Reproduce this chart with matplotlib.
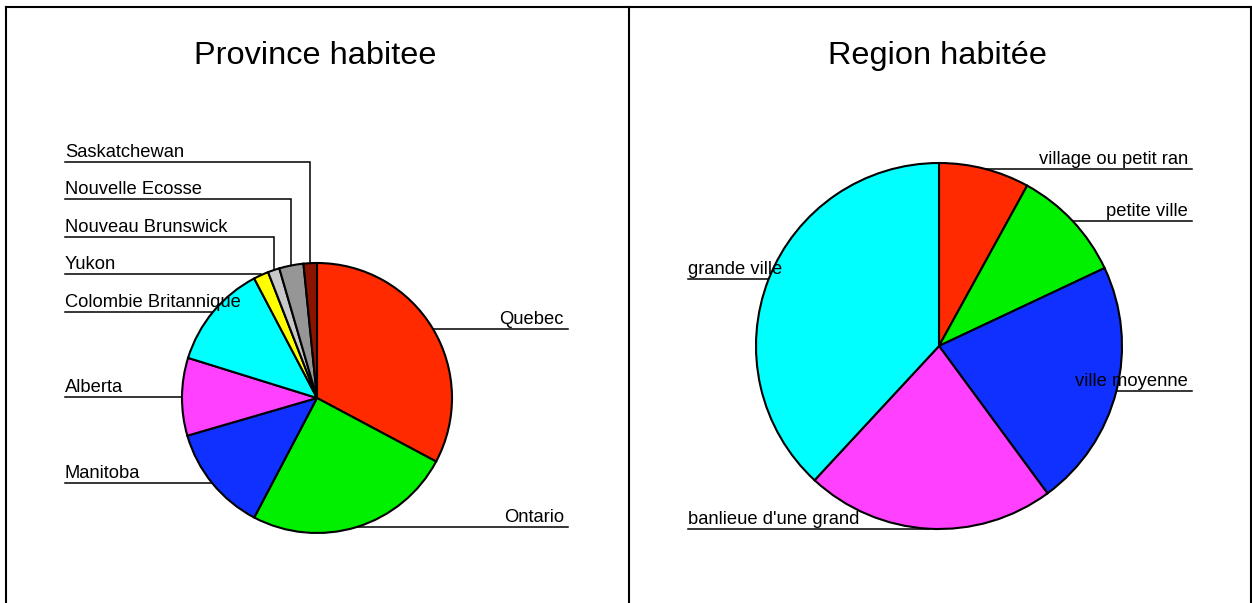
import numpy as np
import matplotlib
matplotlib.use("Agg")
import matplotlib.pyplot as plt

# Figure size in pixels (axes uses pixel coordinates, y up)
W, H = 1252, 603

plt.rcParams["font.family"] = ["Liberation Sans", "DejaVu Sans"]

# Left panel: province
prov_labels = ["Quebec", "Ontario", "Manitoba", "Alberta", "Colombie Britannique",
               "Yukon", "Nouveau Brunswick", "Nouvelle Ecosse", "Saskatchewan"]
prov_values = [32.8, 24.9, 12.8, 9.3, 12.5, 1.8, 1.4, 2.9, 1.6]
prov_colors = ["#ff2a00", "#00f000", "#1030ff", "#ff40ff", "#00ffff",
               "#ffff00", "#c8c8c8", "#969696", "#8b1400"]

# Right panel: region
reg_labels = ["village ou petit ran", "petite ville", "ville moyenne",
              "banlieue d'une grand", "grande ville"]
reg_values = [8.0, 10.0, 21.9, 22.0, 38.1]
reg_colors = ["#ff2a00", "#00f000", "#1030ff", "#ff40ff", "#00ffff"]

fig = plt.figure(figsize=(W / 100, H / 100), dpi=100)
ax = fig.add_axes([0, 0, 1, 1])


def pie_panel(ax, values, colors, labels, cx, cy, r, left_x, right_x, gap=37.5):
    cy = H - cy
    ax.pie(values, colors=colors, center=(cx, cy), radius=r, startangle=90,
           counterclock=False, normalize=True,
           wedgeprops=dict(edgecolor="black", linewidth=1.5, zorder=2))
    vals = np.array(values, dtype=float)
    cum = np.cumsum(vals) / vals.sum() * 360
    mids = np.radians(cum - vals / vals.sum() * 180)
    ex = cx + r * np.sin(mids)
    ey = cy + r * np.cos(mids)

    # push labels apart, bottom to top, on each side
    ly = ey.copy()
    for side in (ex < cx, ex >= cx):
        idx = [i for i in np.argsort(ey) if side[i]]
        prev = None
        for i in idx:
            if prev is not None and ly[i] < prev + gap:
                ly[i] = prev + gap
            prev = ly[i]

    for i, lab in enumerate(labels):
        if ex[i] < cx:
            ax.plot([left_x, ex[i], ex[i]], [ly[i], ly[i], ey[i]],
                    color="black", lw=1.1, zorder=1, solid_joinstyle="miter")
            ax.text(left_x, ly[i] + 5, lab, ha="left", va="baseline",
                    fontsize=13.2, zorder=3)
        else:
            ax.plot([right_x, ex[i], ex[i]], [ly[i], ly[i], ey[i]],
                    color="black", lw=1.1, zorder=1, solid_joinstyle="miter")
            ax.text(right_x - 4, ly[i] + 5, lab, ha="right", va="baseline",
                    fontsize=13.2, zorder=3)


pie_panel(ax, prov_values, prov_colors, prov_labels, 317, 398, 135, 65, 568)
pie_panel(ax, reg_values, reg_colors, reg_labels, 939, 346, 183, 688, 1192)

# titles
ax.text(315, H - 64, "Province habitee", ha="center", va="baseline", fontsize=23.4)
ax.text(938, H - 64, "Region habitée", ha="center", va="baseline", fontsize=23.4)

# panel frames
frame = dict(color="black", lw=1.5, solid_capstyle="projecting")
ax.plot([6, 1251], [H - 6.5, H - 6.5], **frame)
for x in (6, 629, 1251):
    ax.plot([x, x], [H - 6.5, -5], **frame)

ax.set_xlim(0, W)
ax.set_ylim(0, H)
ax.set_aspect("auto")
ax.axis("off")

fig.savefig("out.png", dpi=100)
